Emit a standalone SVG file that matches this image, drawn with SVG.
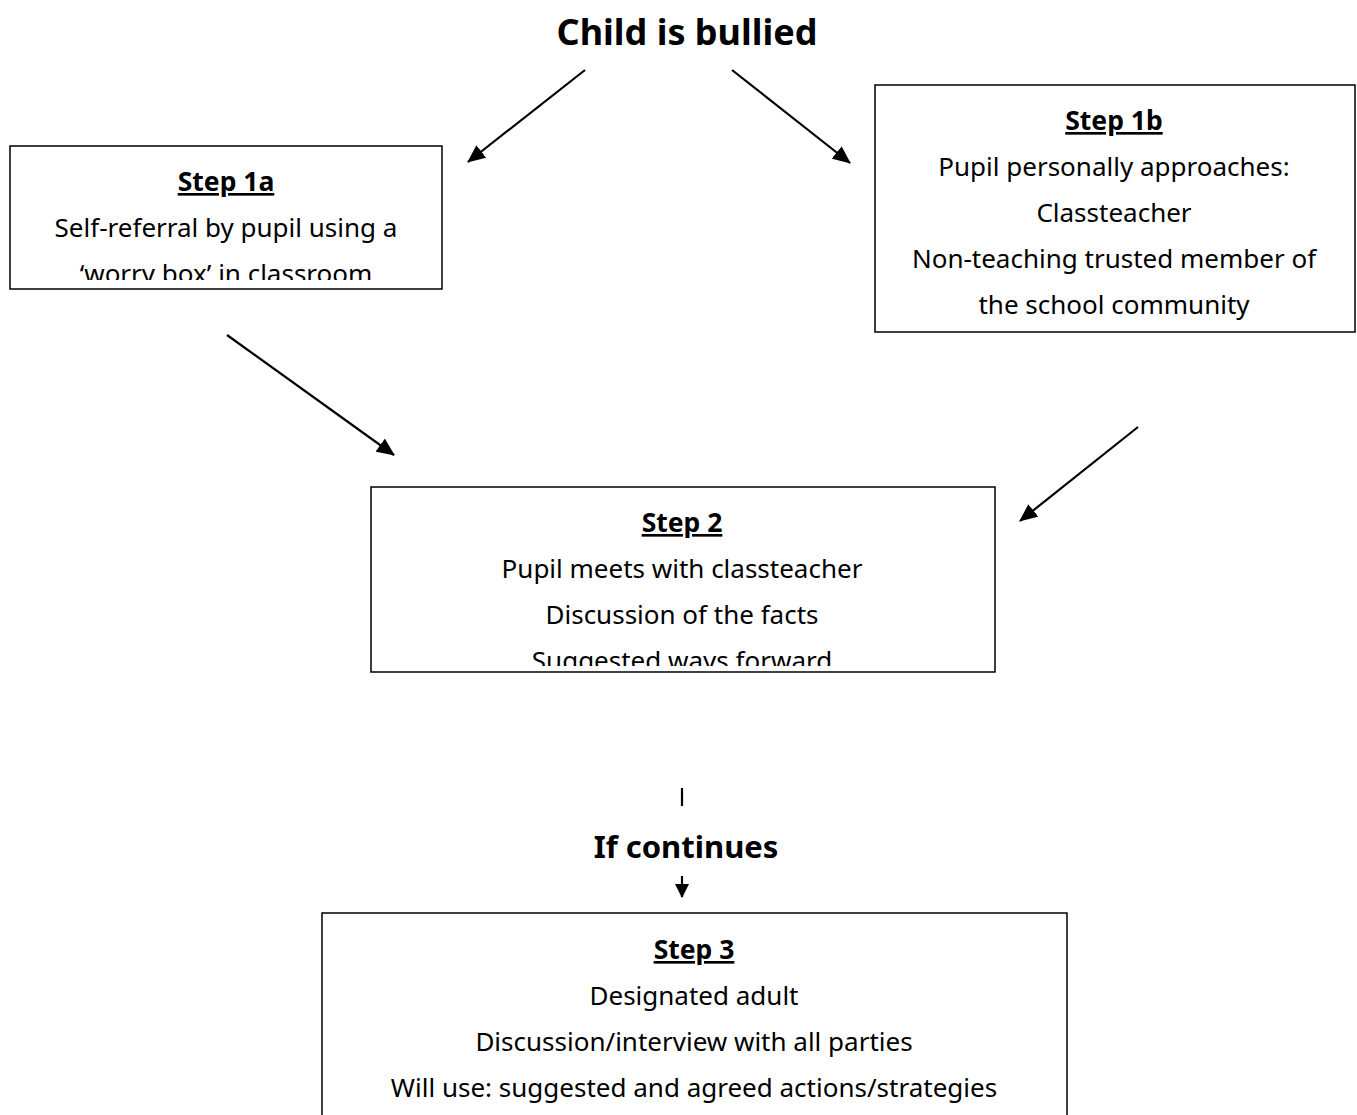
<svg xmlns="http://www.w3.org/2000/svg" width="1357" height="1115" viewBox="0 0 1357 1115">
<style>
.box{fill:#fff;stroke:#000;stroke-width:1.5}
.t{font-family:"Noto Sans","Open Sans",sans-serif;font-size:26px;fill:#000;text-anchor:middle}
.h{font-family:"Noto Sans","Open Sans",sans-serif;font-size:26.5px;font-weight:bold;fill:#000;text-anchor:middle;text-decoration:underline}
.big{font-family:"Noto Sans","Open Sans",sans-serif;font-weight:bold;fill:#000;text-anchor:middle}
.c{stroke:#000;stroke-width:2.2;fill:none}
</style>
<defs>
<marker id="ah" viewBox="0 0 18 16" refX="17" refY="8" markerWidth="18" markerHeight="16" markerUnits="userSpaceOnUse" orient="auto">
<path d="M0,0 L18,8 L0,16 z" fill="#000"/>
</marker>
<marker id="ahs" viewBox="0 0 14 14" refX="13" refY="7" markerWidth="14" markerHeight="14" markerUnits="userSpaceOnUse" orient="auto">
<path d="M0,0 L14,7 L0,14 z" fill="#000"/>
</marker>
<clipPath id="c1a"><rect x="11" y="147" width="430" height="133"/></clipPath>
<clipPath id="c2"><rect x="372" y="488" width="622" height="178"/></clipPath>
</defs>
<rect width="1357" height="1115" fill="#fff"/>
<text class="big" x="687" y="45" font-size="36">Child is bullied</text>
<g id="step1a">
<rect class="box" x="10" y="146" width="432" height="143"/>
<g clip-path="url(#c1a)">
<text class="h" x="226" y="191">Step 1a</text>
<text class="t" x="226" y="237">Self-referral by pupil using a</text>
<text class="t" x="226" y="283">‘worry box’ in classroom</text>
</g>
</g>
<g id="step1b">
<rect class="box" x="875" y="85" width="480" height="247"/>
<text class="h" x="1114" y="130">Step 1b</text>
<text class="t" x="1114" y="176">Pupil personally approaches:</text>
<text class="t" x="1114" y="222">Classteacher</text>
<text class="t" x="1114" y="268">Non-teaching trusted member of</text>
<text class="t" x="1114" y="314">the school community</text>
</g>
<g id="step2">
<rect class="box" x="371" y="487" width="624" height="185"/>
<g clip-path="url(#c2)">
<text class="h" x="682" y="532">Step 2</text>
<text class="t" x="682" y="578">Pupil meets with classteacher</text>
<text class="t" x="682" y="624">Discussion of the facts</text>
<text class="t" x="682" y="670">Suggested ways forward</text>
</g>
</g>
<g id="ifcontinues">
<text class="big" x="686" y="858" font-size="31">If continues</text>
</g>
<g id="step3">
<rect class="box" x="322" y="913" width="745" height="220"/>
<text class="h" x="694" y="959">Step 3</text>
<text class="t" x="694" y="1005">Designated adult</text>
<text class="t" x="694" y="1051">Discussion/interview with all parties</text>
<text class="t" x="694" y="1097">Will use: suggested and agreed actions/strategies</text>
</g>
<g id="connectors">
<line class="c" x1="585" y1="70" x2="468" y2="162" marker-end="url(#ah)"/>
<line class="c" x1="732" y1="70" x2="850" y2="163" marker-end="url(#ah)"/>
<line class="c" x1="227" y1="335" x2="394" y2="455" marker-end="url(#ah)"/>
<line class="c" x1="1138" y1="427" x2="1020" y2="521" marker-end="url(#ah)"/>
<line class="c" x1="682" y1="788" x2="682" y2="806"/>
<line class="c" x1="682" y1="876" x2="682" y2="897" marker-end="url(#ahs)"/>
</g>
</svg>
